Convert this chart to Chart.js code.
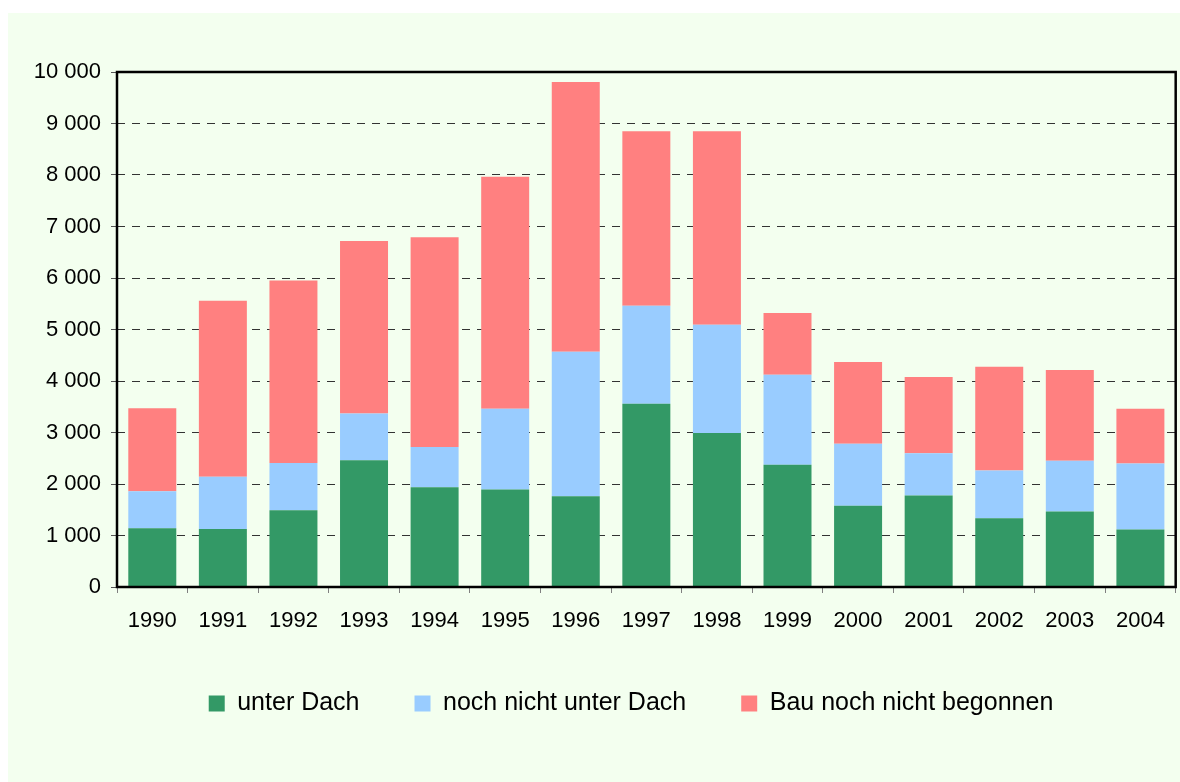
<!DOCTYPE html>
<html lang="de">
<head>
<meta charset="UTF-8">
<title>Wohnungen: Bauüberhang 1990-2004</title>
<script src="https://cdn.jsdelivr.net/npm/chart.js"></script>
<style>
  html, body { margin: 0; padding: 0; background: #fff; }
  #wrap { position: absolute; left: 8px; top: 13px; width: 1172px; height: 769px; background: #F3FFEF; }
</style>
</head>
<body>
<div id="wrap"><canvas id="chart" width="1172" height="769"></canvas></div>
<script>
// Jahre
const years = ["1990","1991","1992","1993","1994","1995","1996","1997","1998","1999","2000","2001","2002","2003","2004"];

// Werte je Segment (gestapelt)
const unterDach      = [1140, 1125, 1490, 2460, 1935, 1895, 1760, 3560, 2990, 2375, 1580, 1775, 1335, 1465, 1115];
const nichtUnterDach = [ 720, 1015,  920,  910,  785, 1565, 2810, 1900, 2100, 1745, 1200,  820,  925,  985, 1285];
const nichtBegonnen  = [1610, 3420, 3540, 3350, 4070, 4505, 5235, 3390, 3760, 1200, 1590, 1485, 2015, 1765, 1060];

const seriesNames = ["unter Dach", "noch nicht unter Dach", "Bau noch nicht begonnen"];
const seriesColors = ["#339966", "#99CCFF", "#FF8080"];

const yMin = 0, yMax = 10000, yStep = 1000;

const fmt = v => String(v).replace(/\B(?=(\d{3})+(?!\d))/g, " ");

// Rahmen um die Zeichenfläche
const frame = {
    id: "frame",
    afterDatasetsDraw(chart) {
        const a = chart.chartArea, c = chart.ctx;
        c.save();
        c.strokeStyle = "#000";
        c.lineWidth = 2.5;
        c.strokeRect(a.left, a.top, a.right - a.left, a.bottom - a.top);
        c.restore();
    }
};

// Legende etwas nach rechts schieben
const legendShift = {
    id: "legendShift",
    afterLayout(chart) {
        chart.legend.left += 39;
        chart.legend.right += 39;
    }
};

Chart.defaults.font.family = "Arial, 'Liberation Sans', sans-serif";
Chart.defaults.color = "#000";

new Chart(document.getElementById("chart"), {
    type: "bar",
    data: {
        labels: years,
        datasets: [
            { label: seriesNames[0], data: unterDach, backgroundColor: seriesColors[0] },
            { label: seriesNames[1], data: nichtUnterDach, backgroundColor: seriesColors[1] },
            { label: seriesNames[2], data: nichtBegonnen, backgroundColor: seriesColors[2] }
        ]
    },
    options: {
        responsive: false,
        animation: false,
        layout: { padding: { top: 59, right: 4, left: 0, bottom: 56 } },
        datasets: { bar: { categoryPercentage: 1, barPercentage: 0.68 } },
        scales: {
            x: {
                stacked: true,
                grid: { offset: true, color: "rgba(0,0,0,0)", tickColor: "#808080", tickLength: 6, tickWidth: 1 },
                border: { display: false },
                ticks: { font: { size: 22 }, padding: 15, maxRotation: 0 },
                afterFit(s) { s.height = 49; }
            },
            y: {
                stacked: true,
                min: yMin, max: yMax,
                grid: {
                    color: ctx => (ctx.tick && (ctx.tick.value === yMin || ctx.tick.value === yMax)) ? "rgba(0,0,0,0)" : "#333",
                    tickColor: "#555",
                    tickLength: 6,
                    tickBorderDash: [],
                    lineWidth: 1
                },
                border: { display: false, dash: [8, 7] },
                ticks: { stepSize: yStep, font: { size: 22 }, padding: 10, callback: v => fmt(v) },
                afterFit(s) { s.width = 109; }
            }
        },
        plugins: {
            tooltip: { enabled: false },
            legend: {
                position: "bottom",
                labels: { boxWidth: 16, boxHeight: 16, padding: 55, font: { size: 25 } }
            }
        }
    },
    plugins: [frame, legendShift]
});
</script>
</body>
</html>
